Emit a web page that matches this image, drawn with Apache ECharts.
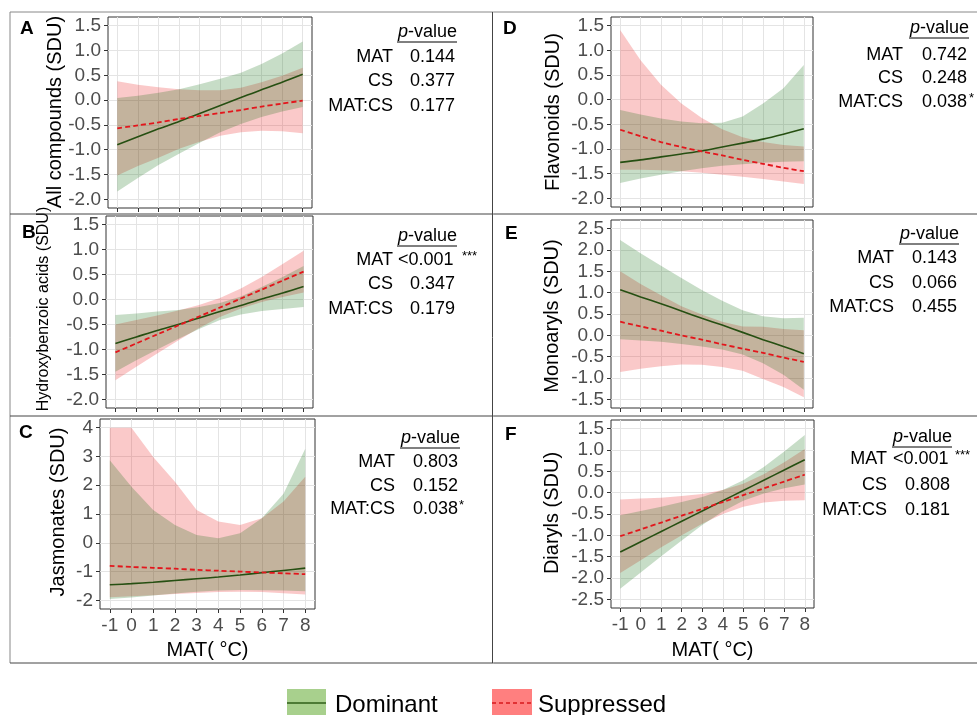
<!DOCTYPE html>
<html>
<head>
<meta charset="utf-8">
<script src="https://cdn.jsdelivr.net/npm/echarts@6/dist/echarts.min.js"></script>
<style>
  html, body { margin: 0; padding: 0; background: #fff; }
  #chart { width: 977px; height: 715px; }
</style>
</head>
<body>
<div id="chart"></div>
<script>
// MAT (°C) at each integer step
var mat = [-1, 0, 1, 2, 3, 4, 5, 6, 7, 8];
var matTicks = [-1, 0, 1, 2, 3, 4, 5, 6, 7, 8];

// tick labels of the y axes
var sduTicks = [-2, -1.5, -1, -0.5, 0, 0.5, 1, 1.5];
var jasTicks = [-2, -1, 0, 1, 2, 3, 4];
var monoTicks = [-1.5, -1, -0.5, 0, 0.5, 1, 1.5, 2, 2.5];
var diaTicks = [-2.5, -2, -1.5, -1, -0.5, 0, 0.5, 1, 1.5];

// A - All compounds
var allDom   = [-0.90, -0.74, -0.58, -0.43, -0.27, -0.11, 0.05, 0.21, 0.36, 0.52];
var allDomLo = [-1.84, -1.57, -1.31, -1.08, -0.86, -0.65, -0.48, -0.34, -0.23, -0.14];
var allDomHi = [0.04, 0.09, 0.15, 0.22, 0.32, 0.43, 0.55, 0.73, 0.94, 1.18];
var allSup   = [-0.57, -0.51, -0.45, -0.38, -0.32, -0.26, -0.20, -0.13, -0.07, -0.01];
var allSupLo = [-1.52, -1.33, -1.16, -0.98, -0.84, -0.72, -0.65, -0.62, -0.63, -0.67];
var allSupHi = [0.38, 0.31, 0.26, 0.22, 0.20, 0.20, 0.25, 0.36, 0.49, 0.65];
var allP = ['0.144', '0.377', '0.177'];
var allStars = ['', '', ''];

// B - Hydroxybenzoic acids
var hbaDom   = [-0.88, -0.75, -0.62, -0.50, -0.37, -0.24, -0.12, 0.01, 0.13, 0.26];
var hbaDomLo = [-1.45, -1.22, -1.00, -0.79, -0.59, -0.41, -0.30, -0.23, -0.19, -0.15];
var hbaDomHi = [-0.31, -0.28, -0.24, -0.21, -0.15, -0.07, 0.06, 0.25, 0.45, 0.67];
var hbaSup   = [-1.06, -0.88, -0.70, -0.52, -0.34, -0.16, 0.02, 0.20, 0.38, 0.56];
var hbaSupLo = [-1.62, -1.35, -1.08, -0.82, -0.57, -0.35, -0.18, -0.05, 0.05, 0.14];
var hbaSupHi = [-0.50, -0.41, -0.32, -0.22, -0.11, 0.03, 0.22, 0.45, 0.71, 0.98];
var hbaP = ['<0.001', '0.347', '0.179'];
var hbaStars = ['***', '', ''];

// C - Jasmonates
var jasDom   = [-1.46, -1.42, -1.37, -1.31, -1.25, -1.19, -1.12, -1.04, -0.96, -0.88];
var jasDomLo = [-1.95, -1.90, -1.83, -1.76, -1.70, -1.66, -1.64, -1.65, -1.66, -1.68];
var jasDomHi = [2.87, 1.95, 1.14, 0.62, 0.27, 0.16, 0.33, 0.85, 1.70, 3.27];
var jasSup   = [-0.80, -0.84, -0.87, -0.90, -0.94, -0.97, -1.00, -1.03, -1.06, -1.09];
var jasSupLo = [-1.89, -1.86, -1.82, -1.78, -1.74, -1.71, -1.70, -1.71, -1.75, -1.80];
var jasSupHi = [4.00, 4.00, 2.98, 2.12, 1.14, 0.74, 0.62, 0.85, 1.43, 2.29];
var jasP = ['0.803', '0.152', '0.038'];
var jasStars = ['', '', '*'];

// D - Flavonoids
var flaDom   = [-1.27, -1.22, -1.16, -1.10, -1.04, -0.96, -0.88, -0.80, -0.70, -0.59];
var flaDomLo = [-1.69, -1.60, -1.52, -1.45, -1.39, -1.34, -1.31, -1.28, -1.26, -1.25];
var flaDomHi = [-0.21, -0.30, -0.38, -0.44, -0.48, -0.47, -0.34, -0.08, 0.23, 0.70];
var flaSup   = [-0.61, -0.74, -0.86, -0.96, -1.05, -1.13, -1.22, -1.30, -1.38, -1.45];
var flaSupLo = [-1.42, -1.42, -1.43, -1.45, -1.48, -1.52, -1.56, -1.61, -1.66, -1.71];
var flaSupHi = [1.41, 0.80, 0.30, -0.08, -0.37, -0.60, -0.76, -0.86, -0.92, -0.95];
var flaP = ['0.742', '0.248', '0.038'];
var flaStars = ['', '', '*'];

// E - Monoaryls
var monDom   = [1.07, 0.90, 0.74, 0.57, 0.40, 0.24, 0.07, -0.10, -0.26, -0.43];
var monDomLo = [-0.09, -0.12, -0.15, -0.20, -0.26, -0.33, -0.45, -0.65, -0.92, -1.27];
var monDomHi = [2.23, 1.92, 1.63, 1.34, 1.06, 0.81, 0.59, 0.45, 0.40, 0.41];
var monSup   = [0.32, 0.21, 0.11, 0.00, -0.10, -0.21, -0.31, -0.41, -0.52, -0.62];
var monSupLo = [-0.86, -0.78, -0.72, -0.68, -0.69, -0.74, -0.83, -1.02, -1.21, -1.45];
var monSupHi = [1.50, 1.20, 0.94, 0.68, 0.49, 0.32, 0.21, 0.20, 0.15, 0.12];
var monP = ['0.143', '0.066', '0.455'];
var monStars = ['', '', ''];

// F - Diaryls
var diaDom   = [-1.39, -1.15, -0.91, -0.67, -0.43, -0.19, 0.05, 0.29, 0.53, 0.77];
var diaDomLo = [-2.25, -1.87, -1.49, -1.12, -0.76, -0.44, -0.19, -0.02, 0.10, 0.19];
var diaDomHi = [-0.53, -0.43, -0.33, -0.22, -0.10, 0.06, 0.29, 0.60, 0.96, 1.35];
var diaSup   = [-1.02, -0.86, -0.70, -0.54, -0.38, -0.22, -0.06, 0.10, 0.26, 0.42];
var diaSupLo = [-1.88, -1.58, -1.28, -1.00, -0.73, -0.50, -0.33, -0.23, -0.19, -0.18];
var diaSupHi = [-0.16, -0.14, -0.12, -0.08, -0.03, 0.06, 0.21, 0.43, 0.71, 1.02];
var diaP = ['<0.001', '0.808', '0.181'];
var diaStars = ['***', '', ''];

var termNames = ['MAT', 'CS', 'MAT:CS'];

var FONT = '"Liberation Sans", Arial, sans-serif';
var DOM_LINE = '#264f12';
var SUP_LINE = '#e3161c';
var DOM_FILL = 'rgba(0,100,0,0.22)';
var SUP_FILL = 'rgba(235,30,30,0.24)';

var panels = [
    {letter: 'A', title: 'All compounds (SDU)', titleSize: 20, titleX: 55, titleY: 112,
     ticks: sduTicks, ymin: -2.175, ymax: 1.675, digits: 1, xlab: false,
     grid: {left: 108, top: 17, width: 204, height: 191}, letterXY: [20, 29],
     dom: allDom, domLo: allDomLo, domHi: allDomHi, sup: allSup, supLo: allSupLo, supHi: allSupHi,
     p: allP, stars: allStars, head: [457, 32], labRight: 393, valLeft: 410, rows: [57, 81, 106], starX: 0},
    {letter: 'B', title: 'Hydroxybenzoic acids (SDU)', titleSize: 16, titleX: 44, titleY: 309,
     ticks: sduTicks, ymin: -2.175, ymax: 1.675, digits: 1, xlab: false,
     grid: {left: 106, top: 216, width: 207, height: 192}, letterXY: [22, 233],
     dom: hbaDom, domLo: hbaDomLo, domHi: hbaDomHi, sup: hbaSup, supLo: hbaSupLo, supHi: hbaSupHi,
     p: hbaP, stars: hbaStars, head: [457, 236], labRight: 393, valLeft: 410, rows: [260, 284, 309], starX: 462},
    {letter: 'C', title: 'Jasmonates (SDU)', titleSize: 20, titleX: 58, titleY: 512,
     ticks: jasTicks, ymin: -2.3, ymax: 4.3, digits: 0, xlab: true,
     grid: {left: 100, top: 419, width: 215, height: 190}, letterXY: [19, 433],
     dom: jasDom, domLo: jasDomLo, domHi: jasDomHi, sup: jasSup, supLo: jasSupLo, supHi: jasSupHi,
     p: jasP, stars: jasStars, head: [460, 438], labRight: 395, valLeft: 413, rows: [462, 486, 509], starX: 459},
    {letter: 'D', title: 'Flavonoids (SDU)', titleSize: 20, titleX: 553, titleY: 112,
     ticks: sduTicks, ymin: -2.175, ymax: 1.675, digits: 1, xlab: false,
     grid: {left: 611, top: 17, width: 202, height: 190}, letterXY: [503, 29],
     dom: flaDom, domLo: flaDomLo, domHi: flaDomHi, sup: flaSup, supLo: flaSupLo, supHi: flaSupHi,
     p: flaP, stars: flaStars, head: [969, 28], labRight: 903, valLeft: 922, rows: [55, 78, 102], starX: 969},
    {letter: 'E', title: 'Monoaryls (SDU)', titleSize: 20, titleX: 552, titleY: 316,
     ticks: monoTicks, ymin: -1.7, ymax: 2.7, digits: 1, xlab: false,
     grid: {left: 611, top: 220, width: 202, height: 188}, letterXY: [505, 234],
     dom: monDom, domLo: monDomLo, domHi: monDomHi, sup: monSup, supLo: monSupLo, supHi: monSupHi,
     p: monP, stars: monStars, head: [959, 234], labRight: 894, valLeft: 912, rows: [258, 283, 307], starX: 0},
    {letter: 'F', title: 'Diaryls (SDU)', titleSize: 20, titleX: 552, titleY: 513,
     ticks: diaTicks, ymin: -2.7, ymax: 1.7, digits: 1, xlab: true,
     grid: {left: 611, top: 420, width: 203, height: 188}, letterXY: [505, 435],
     dom: diaDom, domLo: diaDomLo, domHi: diaDomHi, sup: diaSup, supLo: diaSupLo, supHi: diaSupHi,
     p: diaP, stars: diaStars, head: [952, 437], labRight: 887, valLeft: 905, rows: [459, 485, 510], starX: 955}
];

function band(idx, lo, hi, fill) {
    return {
        type: 'custom', xAxisIndex: idx, yAxisIndex: idx, silent: true, z: 1,
        data: mat.map(function (x, i) { return [x, lo[i], hi[i]]; }),
        renderItem: function (params, api) {
            if (params.dataIndex !== 0) return null;
            var pts = [];
            for (var i = 0; i < mat.length; i++) pts.push(api.coord([mat[i], hi[i]]));
            for (var j = mat.length - 1; j >= 0; j--) pts.push(api.coord([mat[j], lo[j]]));
            return {type: 'polygon', shape: {points: pts}, style: {fill: fill}};
        }
    };
}

function fitLine(idx, ys, color, dashed) {
    return {
        type: 'line', xAxisIndex: idx, yAxisIndex: idx, silent: true, z: 3,
        showSymbol: false, smooth: 0.3,
        data: mat.map(function (x, i) { return [x, ys[i]]; }),
        lineStyle: {color: color, width: dashed ? 1.8 : 1.6, type: dashed ? [5, 3] : 'solid'}
    };
}

function text(x, y, str, o) {
    o = o || {};
    return {
        type: 'text', x: x, y: y, rotation: o.rotation || 0, silent: true, z: 10,
        style: {
            text: str, fill: o.fill || '#000', fontFamily: FONT,
            fontSize: o.size || 18, fontWeight: o.weight || 'normal',
            align: o.align || 'left', verticalAlign: o.valign || 'middle',
            rich: o.rich
        }
    };
}

function hline(x1, y1, x2, y2, color, w, dash) {
    return {
        type: 'line', silent: true, z: 10,
        shape: {x1: x1, y1: y1, x2: x2, y2: y2},
        style: {stroke: color, lineWidth: w || 1, lineDash: dash || null}
    };
}

var grids = [], xAxes = [], yAxes = [], series = [], graphics = [];

panels.forEach(function (p, i) {
    grids.push(Object.assign({show: true, borderColor: '#333', borderWidth: 1, backgroundColor: '#fff'}, p.grid));
    xAxes.push({
        type: 'value', gridIndex: i, min: -1.45, max: 8.45, position: 'bottom',
        axisLine: {show: false, onZero: false},
        axisTick: {show: true, length: 4, lineStyle: {color: '#333'}, customValues: matTicks},
        axisLabel: {show: p.xlab, customValues: matTicks, color: '#4d4d4d', fontSize: 19,
                    fontFamily: FONT, margin: 7, interval: 0},
        splitLine: {show: true, lineStyle: {color: '#e4e4e4', width: 1}}
    });
    yAxes.push({
        type: 'value', gridIndex: i, min: p.ymin, max: p.ymax, position: 'left',
        axisLine: {show: false, onZero: false},
        axisTick: {show: true, length: 4, lineStyle: {color: '#333'}, customValues: p.ticks},
        axisLabel: {customValues: p.ticks, color: '#4d4d4d', fontSize: 19, fontFamily: FONT, margin: 7,
                    formatter: (function (d) { return function (v) { return Number(v).toFixed(d); }; })(p.digits)},
        splitLine: {show: true, lineStyle: {color: '#e4e4e4', width: 1}}
    });
    series.push(band(i, p.supLo, p.supHi, SUP_FILL));
    series.push(band(i, p.domLo, p.domHi, DOM_FILL));
    series.push(fitLine(i, p.dom, DOM_LINE, false));
    series.push(fitLine(i, p.sup, SUP_LINE, true));

    // panel letter and y title
    graphics.push(text(p.letterXY[0], p.letterXY[1], p.letter, {size: 19, weight: 'bold'}));
    graphics.push(text(p.titleX, p.titleY, p.title, {size: p.titleSize, align: 'center', rotation: Math.PI / 2}));

    // p-value table
    graphics.push(text(p.head[0], p.head[1], '{i|p}-value', {align: 'right',
        rich: {i: {fontStyle: 'italic', fontSize: 18, fontFamily: FONT}}}));
    graphics.push(hline(p.head[0] - 60, p.head[1] + 10, p.head[0], p.head[1] + 10, '#000', 1));
    termNames.forEach(function (t, r) {
        graphics.push(text(p.labRight, p.rows[r], t, {align: 'right'}));
        var v = p.p[r];
        graphics.push(text(v.charAt(0) === '<' ? p.valLeft - 12 : p.valLeft, p.rows[r], v));
        if (p.stars[r]) graphics.push(text(p.starX, p.rows[r] - 4, p.stars[r], {size: 13}));
    });

    if (p.xlab) {
        graphics.push(text(p.grid.left + p.grid.width / 2, 650, 'MAT( \u00B0C)', {size: 20, align: 'center'}));
    }
});

// panel frame lines
graphics.push(hline(10, 12, 977, 12, '#888', 1));
graphics.push(hline(10, 12, 10, 663, '#888', 1));
graphics.push(hline(492.5, 12, 492.5, 663, '#444', 1));
graphics.push(hline(10, 214, 977, 214, '#444', 1));
graphics.push(hline(10, 416, 977, 416, '#444', 1));
graphics.push(hline(10, 663, 977, 663, '#444', 1));

// legend
graphics.push({type: 'rect', silent: true, shape: {x: 287, y: 689, width: 39, height: 30}, style: {fill: '#a8d08d'}});
graphics.push(hline(287, 703, 326, 703, '#2f5f18', 1.5));
graphics.push(text(335, 705, 'Dominant', {size: 24}));
graphics.push({type: 'rect', silent: true, shape: {x: 492, y: 689, width: 40, height: 30}, style: {fill: '#ff7f7f'}});
graphics.push(hline(492, 703, 532, 703, '#d7191c', 1.5, [4, 3]));
graphics.push(text(538, 705, 'Suppressed', {size: 24}));

var chart = echarts.init(document.getElementById('chart'), null, {renderer: 'canvas'});
chart.setOption({
    animation: false,
    backgroundColor: '#fff',
    grid: grids,
    xAxis: xAxes,
    yAxis: yAxes,
    series: series,
    graphic: graphics
});
</script>
</body>
</html>
